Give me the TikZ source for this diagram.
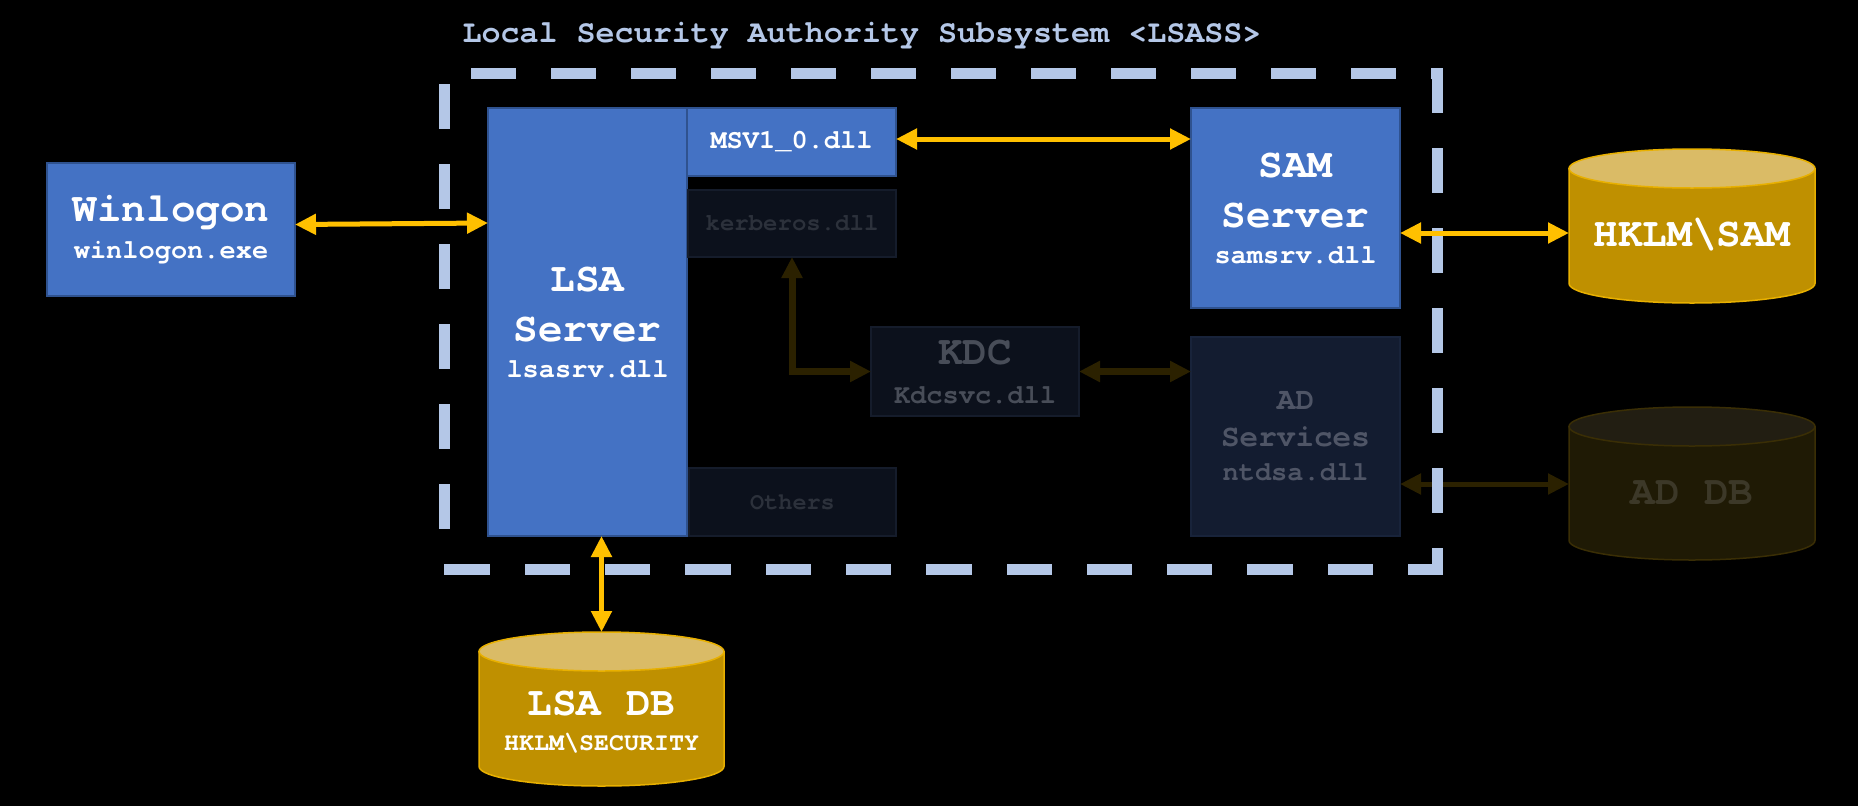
\documentclass[tikz,border=0pt]{standalone}
\usepackage{fontspec}
\setmonofont{TeX Gyre Cursor}
\usetikzlibrary{arrows.meta,calc}
\definecolor{boxblue}{HTML}{4472C4}
\definecolor{boxedge}{HTML}{2F528F}
\definecolor{gold}{HTML}{FFC000}
\definecolor{dimgold}{HTML}{2B2100}
\definecolor{cylside}{HTML}{BF9000}
\definecolor{cyltop}{HTML}{DABB66}
\definecolor{cyledge}{HTML}{E8B000}
\definecolor{dimfill}{HTML}{0C111C}
\definecolor{dimedge}{HTML}{151C2B}
\definecolor{dimtext}{HTML}{2C313B}
\definecolor{kdctext}{HTML}{484D58}
\definecolor{adfill}{HTML}{131C30}
\definecolor{adedge}{HTML}{18233A}
\definecolor{adtext}{HTML}{4F5566}
\definecolor{addbside}{HTML}{1F1A05}
\definecolor{addbtop}{HTML}{221E12}
\definecolor{addbedge}{HTML}{3A2E05}
\definecolor{addbtext}{HTML}{3C3828}
\definecolor{framecol}{HTML}{B4C7E7}
\newcommand\fsz[2]{\fontsize{#1}{#2}\selectfont}
\newcommand\drawcyl[5]{%
  \filldraw[fill=#3, draw=#5, line width=1.5pt]
    ($(#1.north west)+(0,19.5)$) -- ($(#1.south west)+(0,-19.5)$)
    arc[start angle=180, end angle=360, x radius=#2pt, y radius=19.5pt]
    -- ($(#1.north east)+(0,19.5)$) -- cycle;
  \filldraw[fill=#4, draw=#5, line width=1.5pt]
    ($(#1.north)+(0,19.5)$) ellipse[x radius=#2pt, y radius=19.5pt];
}
\begin{document}
\begin{tikzpicture}[x=1pt,y=-1pt,
  every node/.style={outer sep=0pt},
  box/.style={draw=boxedge, line width=1.5pt, fill=boxblue, inner sep=0pt,
    text=white, align=center, font=\ttfamily\bfseries\fsz{27}{36}},
  dimbox/.style={box, fill=dimfill, draw=dimedge},
  cylnode/.style={inner sep=0pt},
  cyltext/.style={inner sep=0pt, text=white, align=center, font=\ttfamily\bfseries\fsz{41}{36}},
  arr/.style={draw=gold, line width=5pt,
    {Triangle[length=21pt,width=20pt]}-{Triangle[length=21pt,width=20pt]}},
  dimarr/.style={arr, draw=dimgold, line width=7pt, line join=miter},
  framestyle/.style={draw=framecol, line width=11pt, line cap=rect}]
\fill[black] (0,0) rectangle (1858,806);
\useasboundingbox (0,0) rectangle (1858,806);

% title
\node[font=\ttfamily\bfseries\fsz{31.7}{36}, text=framecol, inner sep=0pt] (title) at (862,36)
  {Local Security Authority Subsystem <LSASS>};

% boxes
\node[box, minimum width=248pt, minimum height=133pt] (winlogon) at (171,229.5)
  {{\fsz{41}{36}Winlogon}\\[1pt]winlogon.exe};
\node[box, minimum width=199pt, minimum height=428pt] (lsa) at (587.5,322)
  {{\fsz{41}{36}LSA}\\[14pt]{\fsz{41}{36}Server}\\lsasrv.dll};
\node[box, minimum width=209pt, minimum height=68pt] (msv) at (791.5,142) {MSV1\_0.dll};
\node[dimbox, text=dimtext, font=\ttfamily\bfseries\fsz{24}{30}, minimum width=208pt, minimum height=67pt]
  (kerb) at (792,223.5) {kerberos.dll};
\node[dimbox, text=dimtext, font=\ttfamily\bfseries\fsz{23.5}{30}, minimum width=207pt, minimum height=68pt]
  (others) at (792.5,502) {Others};
\node[dimbox, text=kdctext, minimum width=208pt, minimum height=89pt] (kdc) at (975,371.5)
  {{\fsz{41}{36}KDC}\\[3pt]Kdcsvc.dll};
\node[box, minimum width=209pt, minimum height=200pt] (sam) at (1295.5,208)
  {{\fsz{41}{36}SAM}\\[14pt]{\fsz{41}{36}Server}\\samsrv.dll};
\node[box, fill=adfill, draw=adedge, text=adtext, font=\ttfamily\bfseries\fsz{27}{34},
  minimum width=209pt, minimum height=199pt] (ad) at (1295.5,436.5)
  {{\fsz{31}{34}AD}\\[3pt]{\fsz{31}{34}Services}\\ntdsa.dll};

% cylinders
\node[cylnode, minimum width=246pt, minimum height=154pt] (hklm) at (1692,226) {};
\node[cylnode, minimum width=246pt, minimum height=153pt] (addb) at (1692,483.5) {};
\node[cylnode, minimum width=245pt, minimum height=154pt] (lsadb) at (601.5,709) {};
\drawcyl{hklm}{123}{cylside}{cyltop}{cyledge}
\drawcyl{addb}{123}{addbside}{addbtop}{addbedge}
\drawcyl{lsadb}{122.5}{cylside}{cyltop}{cyledge}
\node[cyltext] (hklmtxt) at ($(hklm.center)+(0,9)$) {HKLM\textbackslash SAM};
\node[cyltext, text=addbtext] (addbtxt) at ($(addb.center)+(0,9.5)$) {AD DB};
\node[cyltext] (lsadbtxt) at ($(lsadb.center)+(0,13)$)
  {LSA DB\\[-1pt]{\fsz{25}{35}HKLM\textbackslash SECURITY}};

% dim connectors (under the frame)
\draw[dimarr] (kerb.south) |- (kdc.west);
\draw[dimarr] (kdc.east) -- (kdc.east -| ad.west);
\draw[dimarr, line width=5pt] ([yshift=-47.5pt]ad.east) -- ([yshift=-47.5pt]ad.east -| addb.west);

% LSASS frame
\node[inner sep=0pt, minimum width=993pt, minimum height=496pt] (lsass) at (940.5,321) {};
\draw[framestyle, dash pattern=on 34pt off 46pt, dash phase=47.5pt]
  (lsass.north west) -- (lsass.north east);
\draw[framestyle, dash pattern=on 34pt off 46pt, dash phase=79.5pt]
  (lsass.north east) -- (lsass.south east);
\draw[framestyle, dash pattern=on 34.3pt off 46pt, dash phase=10.8pt]
  (lsass.south east) -- (lsass.south west);
\draw[framestyle, dash pattern=on 34pt off 46pt, dash phase=34.5pt]
  (lsass.south west) -- (lsass.north west);

% connectors
\draw[arr] ([yshift=5pt]winlogon.east) -- ([yshift=-115pt]lsa.north west);
\draw[arr] ([yshift=3pt]msv.east) -- ([yshift=3pt]msv.east -| sam.west);
\draw[arr] ([yshift=-25pt]sam.east) -- ([yshift=-25pt]sam.east -| hklm.west);
\draw[arr] ([xshift=14pt]lsa.south) -- (lsadb.north);
\end{tikzpicture}
\end{document}
